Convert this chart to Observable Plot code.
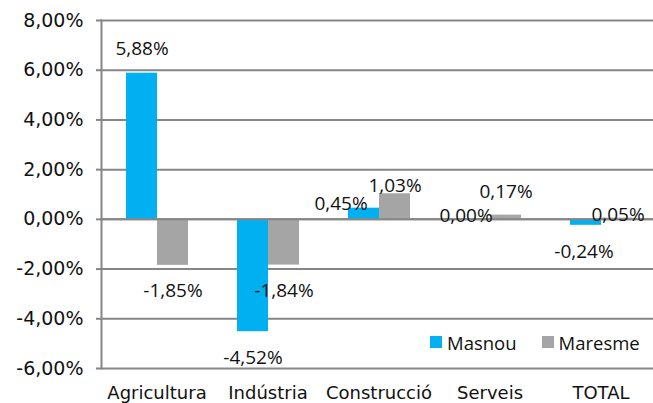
<!DOCTYPE html>
<html><head><meta charset="utf-8">
<script src="https://cdn.jsdelivr.net/npm/d3@7"></script>
<script src="https://cdn.jsdelivr.net/npm/@observablehq/plot@0.6"></script>
<style>
html,body{margin:0;padding:0;background:#fff;}
#chart{position:relative;width:653px;height:403px;overflow:hidden;}
#legend{position:absolute;left:430px;top:329px;height:26px;display:flex;align-items:center;font-family:"Open Sans";font-size:18.5px;color:#111;}
#legend .item{display:flex;align-items:center;margin-right:25px;}
#legend .sw{width:12px;height:12px;margin-right:5px;display:inline-block;}
</style></head><body><div id="chart"></div>
<script>
const categories = ["Agricultura","Indústria","Construcció","Serveis","TOTAL"];
const seriesNames = ["Masnou","Maresme"];
const masnou = [5.88,-4.52,0.45,0.00,-0.24];
const maresme = [-1.85,-1.84,1.03,0.17,0.05];
const yTicks = [-6,-4,-2,0,2,4,6,8];
const colors = ["#00B0F0","#A5A5A5"];
// label nudges in pixels, relative to the bar end
const labelDx = {Masnou:[0,0,-23,-9,-2], Maresme:[0,0,0,0,1]};
const labelDy = {Masnou:[-24,26,-4,-3,27], Maresme:[26,26,-8,-23,-3]};

const rows = [];
categories.forEach((c,i)=>{
  rows.push({category:c, series:"Masnou", value:masnou[i], dx:labelDx.Masnou[i], dy:labelDy.Masnou[i]});
  rows.push({category:c, series:"Maresme", value:maresme[i], dx:labelDx.Maresme[i], dy:labelDy.Maresme[i]});
});
const fmt = v => v.toFixed(2).replace(".",",")+"%";
const gridColor = "#868686";
const textColor = "#111";

const plot = Plot.plot({
  width:653, height:403,
  marginLeft:99, marginRight:-4, marginTop:20, marginBottom:35,
  style:{fontFamily:"DejaVu Sans", fontSize:"18px", color:textColor, background:"#fff", overflow:"visible"},
  fx:{domain:categories, padding:0, label:null},
  x:{domain:seriesNames, paddingInner:0, paddingOuter:0.77, axis:null},
  y:{domain:[-6,8], label:null},
  color:{domain:seriesNames, range:colors},
  marks:[
    Plot.gridY(yTicks, {stroke:gridColor, strokeOpacity:1, strokeWidth:2}),
    Plot.barY(rows, {fx:"category", x:"series", y:"value", fill:"series"}),
    Plot.ruleY([0], {stroke:gridColor, strokeWidth:2}),
    Plot.frame({anchor:"left", facet:"super", stroke:gridColor, strokeWidth:2}),
    Plot.axisY(yTicks, {tickSize:5, tickPadding:13, tickFormat:fmt, stroke:gridColor, strokeWidth:2, fill:textColor, fontSize:19, label:null}),
    Plot.axisFx({anchor:"bottom", tickSize:0, tickPadding:18, label:null, fontSize:18, fill:textColor}),
    ...rows.map(d => Plot.text([d], {fx:"category", x:"series", y:"value", text:r=>fmt(r.value), dx:d.dx, dy:d.dy, fontFamily:"Open Sans", fontSize:19, fill:textColor}))
  ]
});
const chart = document.getElementById("chart");
chart.appendChild(plot);

const legend = document.createElement("div");
legend.id = "legend";
seriesNames.forEach((s,i)=>{
  const item = document.createElement("span");
  item.className = "item";
  const sw = document.createElement("span");
  sw.className = "sw";
  sw.style.background = colors[i];
  item.appendChild(sw);
  item.appendChild(document.createTextNode(s));
  legend.appendChild(item);
});
chart.appendChild(legend);
</script></body></html>
